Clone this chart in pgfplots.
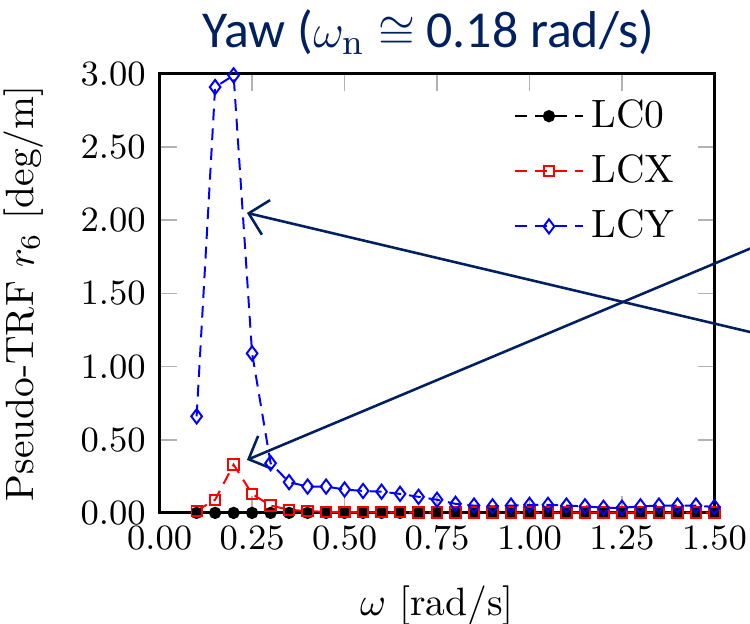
\documentclass[border=0pt]{standalone}
\usepackage{fontspec}
\usepackage{pgfplots}
\usepackage{pgfplotstable}
\pgfplotsset{compat=1.18}
\usetikzlibrary{arrows.meta}
\newfontfamily\titlefont{Carlito}
\definecolor{navy}{RGB}{0,32,96}

% omega [rad/s], LC0, LCX, LCY
\pgfplotstableread{
w    lcz   lcx    lcy
0.10 0.000 0.015  0.66
0.15 0.000 0.090  2.91
0.20 0.000 0.330  2.99
0.25 0.000 0.130  1.09
0.30 0.000 0.050  0.34
0.35 0.000 0.022  0.21
0.40 0.000 0.012  0.18
0.45 0.000 0.008  0.18
0.50 0.000 0.006  0.16
0.55 0.000 0.005  0.15
0.60 0.000 0.004  0.145
0.65 0.000 0.004  0.13
0.70 0.000 0.003  0.11
0.75 0.000 0.003  0.09
0.80 0.000 0.002  0.062
0.85 0.000 0.002  0.050
0.90 0.000 0.002  0.045
0.95 0.000 0.002  0.050
1.00 0.000 0.002  0.055
1.05 0.000 0.002  0.055
1.10 0.000 0.002  0.050
1.15 0.000 0.002  0.045
1.20 0.000 0.002  0.035
1.25 0.000 0.002  0.035
1.30 0.000 0.002  0.045
1.35 0.000 0.002  0.050
1.40 0.000 0.002  0.050
1.45 0.000 0.002  0.050
1.50 0.000 0.002  0.040
}\trfdata

\begin{document}
\begin{tikzpicture}
\begin{axis}[
    scale only axis, width=140.4pt, height=111.1pt,
    xmin=0, xmax=1.5, ymin=0, ymax=3,
    xtick={0,0.25,0.5,0.75,1,1.25,1.5},
    ytick={0,0.5,1,1.5,2,2.5,3},
    xticklabel style={/pgf/number format/.cd, fixed, fixed zerofill, precision=2},
    yticklabel style={/pgf/number format/.cd, fixed, fixed zerofill, precision=2},
    tick label style={font=\small},
    tick style={gray!60, thin},
    axis line style={line width=0.8pt},
    xlabel={$\omega$ [rad/s]},
    ylabel={Pseudo-TRF $r_6$ [deg/m]},
    xlabel shift=2.3pt,
    ylabel shift=2.5pt,
    clip=false,
    legend cell align=left,
    legend style={draw=none, fill=none, at={(0.965,0.98)}, anchor=north east,
        font=\normalsize, row sep=1.4pt},
    every axis plot/.append style={line width=0.5pt, dash pattern=on 3pt off 2pt},
]
\coordinate (sw) at (rel axis cs:0,0);
\coordinate (ne) at (rel axis cs:1,1);
\coordinate (nw) at (rel axis cs:0,1);
\addplot[black, mark=*, mark size=1.3pt, mark options={solid}] table[x=w, y=lcz] {\trfdata};
\addplot[red, mark=square, mark size=1.3pt, mark options={solid}] table[x=w, y=lcx] {\trfdata};
\addplot[blue, mark=diamond, mark size=1.8pt, mark options={solid}] table[x=w, y=lcy] {\trfdata};
\legend{LC0, LCX, LCY}
\draw[navy, line width=0.65pt, -{Straight Barb[length=4.5pt, width=9pt]}] (axis cs:1.6,1.234) -- (axis cs:0.236,2.05);
\draw[navy, line width=0.65pt, -{Straight Barb[length=4.5pt, width=9pt]}] (axis cs:1.6,1.81) -- (axis cs:0.236,0.362);
\end{axis}
\node[anchor=base, text=navy, inner sep=0pt,
      font=\titlefont\fontsize{13.1pt}{15pt}\selectfont]
    at ([xshift=68pt, yshift=6.7pt]nw)
    {Yaw ($\omega_\mathrm{n} \cong$ 0.18 rad/s)};
\pgfresetboundingbox
\useasboundingbox ([xshift=-40.4pt, yshift=-28.1pt]sw) rectangle ([xshift=9pt, yshift=18.7pt]ne);
\end{tikzpicture}
\end{document}
